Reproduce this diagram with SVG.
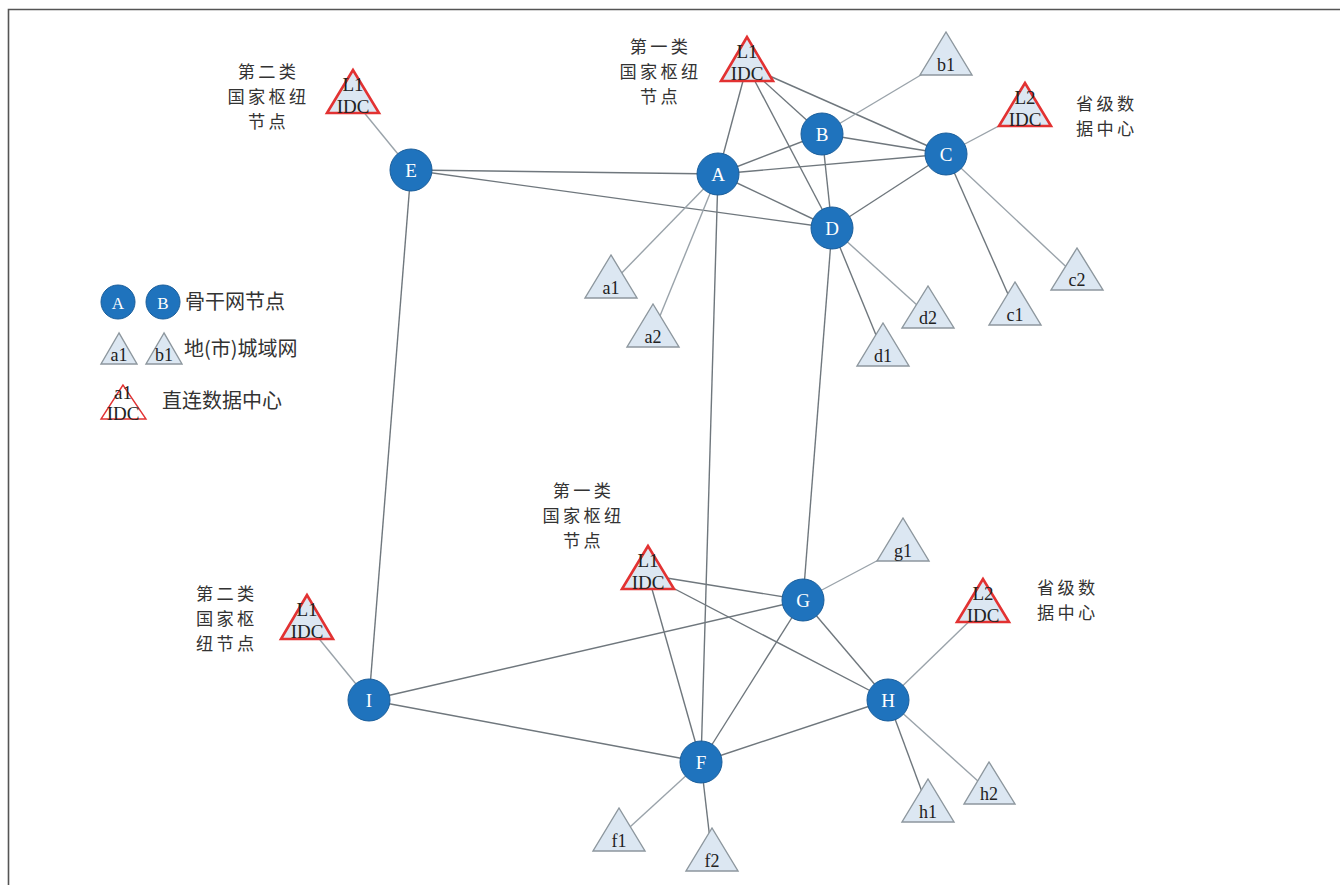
<svg xmlns="http://www.w3.org/2000/svg" width="1340" height="885" viewBox="0 0 1340 885">
<style>
.bg{fill:#ffffff}
.frame{stroke:#555;stroke-width:1.6;fill:none}
.e{stroke:#6f777d;stroke-width:1.4;fill:none}
.l{stroke:#9aa3aa;stroke-width:1.4;fill:none}
.n{fill:#1f73bd;stroke:#1a5e9b;stroke-width:1}
.nt{font-family:"Liberation Serif",serif;font-size:19px;fill:#ffffff;text-anchor:middle}
.tri{fill:#dce7f2;stroke:#8d979e;stroke-width:1.4}
.idc{fill:#dce7f2;stroke:#e23232;stroke-width:2.6}
.tt{font-family:"Liberation Serif",serif;font-size:18px;fill:#222;text-anchor:middle}
.it{font-family:"Liberation Serif",serif;font-size:19px;fill:#222;text-anchor:middle}
.cn{font-family:"Noto Sans CJK SC",sans-serif;font-size:17.2px;letter-spacing:3.3px;fill:#333;text-anchor:middle}
.cm{font-family:"Noto Sans CJK SC",sans-serif;font-size:17.2px;letter-spacing:3.3px;fill:#333}
.cs{font-family:"Noto Sans CJK SC",sans-serif;font-size:20px;fill:#333}
</style>
<rect class="bg" x="0" y="0" width="1340" height="885"/>
<path class="frame" d="M8.5,885 V9.5 H1340"/>

<g id="connectors">
  <line class="l" x1="411" y1="170" x2="353" y2="99"/>
  <line class="e" x1="411" y1="170" x2="718" y2="174"/>
  <line class="e" x1="411" y1="170" x2="832" y2="228"/>
  <line class="e" x1="411" y1="170" x2="369" y2="700"/>
  <line class="e" x1="747" y1="66" x2="718" y2="174"/>
  <line class="e" x1="747" y1="66" x2="822" y2="134"/>
  <line class="e" x1="747" y1="66" x2="832" y2="228"/>
  <line class="e" x1="747" y1="66" x2="946" y2="154"/>
  <line class="l" x1="946" y1="60" x2="822" y2="134"/>
  <line class="e" x1="822" y1="134" x2="718" y2="174"/>
  <line class="e" x1="822" y1="134" x2="946" y2="154"/>
  <line class="e" x1="822" y1="134" x2="832" y2="228"/>
  <line class="e" x1="718" y1="174" x2="946" y2="154"/>
  <line class="e" x1="718" y1="174" x2="832" y2="228"/>
  <line class="e" x1="946" y1="154" x2="832" y2="228"/>
  <line class="l" x1="946" y1="154" x2="1025" y2="112"/>
  <line class="e" x1="946" y1="154" x2="1015" y2="310"/>
  <line class="l" x1="946" y1="154" x2="1077" y2="277"/>
  <line class="l" x1="718" y1="174" x2="611" y2="284"/>
  <line class="l" x1="718" y1="174" x2="653" y2="333"/>
  <line class="e" x1="718" y1="174" x2="701" y2="762"/>
  <line class="e" x1="832" y1="228" x2="883" y2="352"/>
  <line class="l" x1="832" y1="228" x2="928" y2="315"/>
  <line class="e" x1="832" y1="228" x2="803" y2="600"/>
  <line class="e" x1="648" y1="575" x2="803" y2="600"/>
  <line class="e" x1="648" y1="575" x2="888" y2="700"/>
  <line class="e" x1="648" y1="575" x2="701" y2="762"/>
  <line class="l" x1="803" y1="600" x2="903" y2="547"/>
  <line class="e" x1="803" y1="600" x2="369" y2="700"/>
  <line class="e" x1="803" y1="600" x2="888" y2="700"/>
  <line class="e" x1="803" y1="600" x2="701" y2="762"/>
  <line class="l" x1="369" y1="700" x2="307" y2="624"/>
  <line class="e" x1="369" y1="700" x2="701" y2="762"/>
  <line class="e" x1="888" y1="700" x2="701" y2="762"/>
  <line class="l" x1="888" y1="700" x2="983" y2="608"/>
  <line class="e" x1="888" y1="700" x2="928" y2="808"/>
  <line class="l" x1="888" y1="700" x2="989" y2="791"/>
  <line class="l" x1="701" y1="762" x2="619" y2="837"/>
  <line class="e" x1="701" y1="762" x2="712" y2="857"/>
</g>

<g id="idc-tl"><polygon class="idc" points="353,70 327,113 379,113"/><text class="it" x="353" y="91">L1<tspan x="353" dy="22">IDC</tspan></text></g>
<g id="idc-top"><polygon class="idc" points="747,37 721,81 773,81"/><text class="it" x="747" y="58">L1<tspan x="747" dy="22">IDC</tspan></text></g>
<g id="idc-tr"><polygon class="idc" points="1025,83 999,126 1051,126"/><text class="it" x="1025" y="104">L2<tspan x="1025" dy="22">IDC</tspan></text></g>
<g id="idc-mid"><polygon class="idc" points="648,546 622,589 674,589"/><text class="it" x="648" y="567">L1<tspan x="648" dy="22">IDC</tspan></text></g>
<g id="idc-bl"><polygon class="idc" points="307,595 281,639 333,639"/><text class="it" x="307" y="616">L1<tspan x="307" dy="22">IDC</tspan></text></g>
<g id="idc-br"><polygon class="idc" points="983,579 957,622 1009,622"/><text class="it" x="983" y="600">L2<tspan x="983" dy="22">IDC</tspan></text></g>

<g id="b1"><polygon class="tri" points="946,32 920,75 972,75"/><text class="tt" x="946" y="71">b1</text></g>
<g id="a1"><polygon class="tri" points="611,255 585,298 637,298"/><text class="tt" x="611" y="294">a1</text></g>
<g id="a2"><polygon class="tri" points="653,304 627,347 679,347"/><text class="tt" x="653" y="343">a2</text></g>
<g id="d1"><polygon class="tri" points="883,323 857,366 909,366"/><text class="tt" x="883" y="362">d1</text></g>
<g id="d2"><polygon class="tri" points="928,286 902,328 954,328"/><text class="tt" x="928" y="324">d2</text></g>
<g id="c1"><polygon class="tri" points="1015,282 989,325 1041,325"/><text class="tt" x="1015" y="321">c1</text></g>
<g id="c2"><polygon class="tri" points="1077,248 1051,290 1103,290"/><text class="tt" x="1077" y="286">c2</text></g>
<g id="g1"><polygon class="tri" points="903,518 877,561 929,561"/><text class="tt" x="903" y="557">g1</text></g>
<g id="h1"><polygon class="tri" points="928,779 902,822 954,822"/><text class="tt" x="928" y="818">h1</text></g>
<g id="h2"><polygon class="tri" points="989,762 964,804 1015,804"/><text class="tt" x="989" y="800">h2</text></g>
<g id="f1"><polygon class="tri" points="619,808 593,851 645,851"/><text class="tt" x="619" y="847">f1</text></g>
<g id="f2"><polygon class="tri" points="712,828 686,871 738,871"/><text class="tt" x="712" y="867">f2</text></g>

<g id="E"><circle class="n" cx="411" cy="170" r="21"/><text class="nt" x="411" y="177">E</text></g>
<g id="A"><circle class="n" cx="718" cy="174" r="21"/><text class="nt" x="718" y="181">A</text></g>
<g id="B"><circle class="n" cx="822" cy="134" r="21"/><text class="nt" x="822" y="141">B</text></g>
<g id="C"><circle class="n" cx="946" cy="154" r="21"/><text class="nt" x="946" y="161">C</text></g>
<g id="D"><circle class="n" cx="832" cy="228" r="21"/><text class="nt" x="832" y="235">D</text></g>
<g id="G"><circle class="n" cx="803" cy="600" r="21"/><text class="nt" x="803" y="607">G</text></g>
<g id="I"><circle class="n" cx="369" cy="700" r="21"/><text class="nt" x="369" y="707">I</text></g>
<g id="H"><circle class="n" cx="888" cy="700" r="21"/><text class="nt" x="888" y="707">H</text></g>
<g id="F"><circle class="n" cx="701" cy="762" r="21"/><text class="nt" x="701" y="769">F</text></g>

<g id="labels">
  <text class="cn" x="268.6" y="78">第二类</text>
  <text class="cn" x="268.6" y="103">国家枢纽</text>
  <text class="cn" x="268.6" y="128">节点</text>
  <text class="cn" x="660.6" y="53">第一类</text>
  <text class="cn" x="660.6" y="78">国家枢纽</text>
  <text class="cn" x="660.6" y="103">节点</text>
  <text class="cm" x="1076" y="110">省级数</text>
  <text class="cm" x="1076" y="135">据中心</text>
  <text class="cn" x="583.6" y="497">第一类</text>
  <text class="cn" x="583.6" y="522">国家枢纽</text>
  <text class="cn" x="583.6" y="547">节点</text>
  <text class="cm" x="196" y="600">第二类</text>
  <text class="cm" x="196" y="625">国家枢</text>
  <text class="cm" x="196" y="650">纽节点</text>
  <text class="cm" x="1037" y="594">省级数</text>
  <text class="cm" x="1037" y="619">据中心</text>
</g>

<g id="legend">
  <circle class="n" cx="118" cy="302" r="17"/><text class="nt" x="118" y="309" style="font-size:17px">A</text>
  <circle class="n" cx="163" cy="302" r="17"/><text class="nt" x="163" y="309" style="font-size:17px">B</text>
  <text class="cs" x="185" y="309">骨干网节点</text>
  <polygon class="tri" points="119,333 101,364 137,364"/><text class="tt" x="119" y="361">a1</text>
  <polygon class="tri" points="164,333 146,364 182,364"/><text class="tt" x="164" y="361">b1</text>
  <text class="cs" x="184" y="356">地(市)城域网</text>
  <polygon points="123,385 101,419 146,419" fill="none" stroke="#e23232" stroke-width="1.4"/>
  <text class="it" x="123" y="399">a1<tspan x="123" dy="21">IDC</tspan></text>
  <text class="cs" x="162" y="408">直连数据中心</text>
</g>
</svg>
